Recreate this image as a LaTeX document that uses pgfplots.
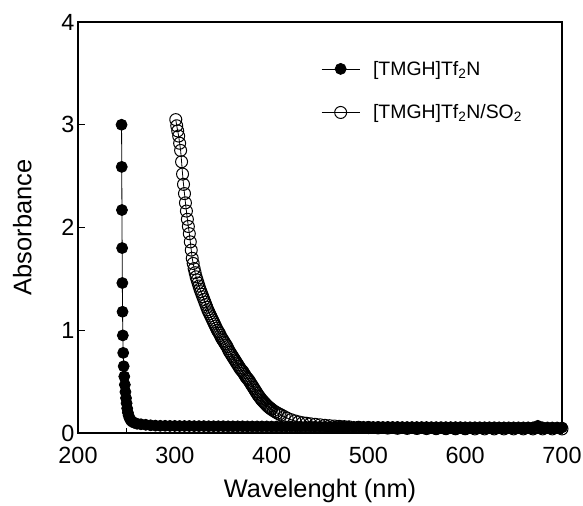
\documentclass[border=0pt]{standalone}
\usepackage{pgfplots}
\pgfplotsset{compat=1.18}
\usepackage{fontspec}
\setmainfont{Liberation Sans}

% absorbance spectra
\pgfplotstableread{
x y
245.0 3.00
245.2 2.59
245.4 2.17
245.6 1.80
245.8 1.46
246.0 1.18
246.3 0.95
246.7 0.78
247.2 0.65
247.8 0.55
248.4 0.47
249.0 0.40
249.6 0.34
250.2 0.29
250.8 0.24
251.5 0.20
252.3 0.17
253.2 0.145
254.5 0.125
256 0.11
258 0.10
261 0.09
265 0.085
270 0.08
275 0.075
280 0.072
285 0.070
290 0.070
295 0.069
300 0.069
305 0.068
310 0.068
315 0.068
320 0.067
325 0.067
330 0.067
335 0.066
340 0.066
345 0.066
350 0.066
355 0.065
360 0.065
365 0.065
370 0.065
375 0.064
380 0.064
385 0.064
390 0.064
395 0.064
400 0.063
405 0.063
410 0.063
415 0.063
420 0.063
425 0.062
430 0.062
435 0.062
440 0.062
445 0.062
450 0.061
455 0.061
460 0.061
465 0.061
470 0.061
475 0.060
480 0.060
485 0.060
490 0.060
495 0.060
500 0.060
505 0.059
510 0.059
515 0.059
520 0.059
525 0.059
530 0.059
535 0.058
540 0.058
545 0.058
550 0.058
555 0.058
560 0.058
565 0.057
570 0.057
575 0.057
580 0.057
585 0.057
590 0.057
595 0.057
600 0.056
605 0.056
610 0.056
615 0.056
620 0.056
625 0.056
630 0.056
635 0.055
640 0.055
645 0.055
650 0.055
655 0.055
660 0.055
665 0.055
670 0.055
675 0.070
680 0.055
685 0.054
690 0.054
695 0.054
700 0.054
}\pure

\pgfplotstableread{
x y
301 3.05
302 2.99
303 2.94
304 2.89
305 2.82
306 2.75
307 2.64
308 2.52
309 2.42
310 2.33
311 2.24
312 2.16
313 2.08
314 2.01
315 1.94
316 1.86
317 1.78
318 1.70
319 1.65
320 1.60
321 1.56
322 1.52
323 1.49
324 1.46
325 1.43
326 1.40
327 1.375
328 1.35
329 1.325
330 1.30
331 1.275
332 1.25
333 1.225
334 1.20
335 1.18
336 1.16
337 1.14
338 1.12
339 1.10
340 1.08
341 1.06
342 1.04
343 1.02
344 1.00
345 0.985
346 0.97
347 0.95
348 0.93
349 0.915
350 0.90
351 0.885
352 0.87
353 0.855
354 0.84
355 0.82
356 0.80
357 0.785
358 0.77
359 0.755
360 0.74
361 0.725
362 0.71
363 0.695
364 0.68
365 0.665
366 0.65
367 0.635
368 0.62
369 0.61
370 0.60
371 0.585
372 0.57
373 0.555
374 0.54
375 0.53
376 0.52
377 0.505
378 0.49
379 0.475
380 0.46
381 0.445
382 0.43
383 0.415
384 0.40
385 0.385
386 0.37
387 0.357
388 0.345
389 0.332
390 0.32
391 0.31
392 0.30
393 0.29
394 0.28
395 0.27
396 0.26
397 0.252
398 0.245
399 0.237
400 0.23
402 0.217
404 0.205
406 0.194
408 0.184
410 0.175
413 0.16
416 0.145
420 0.13
424 0.118
428 0.108
432 0.10
436 0.095
440 0.09
445 0.085
450 0.08
455 0.075
460 0.071
465 0.068
470 0.065
475 0.062
480 0.060
490 0.056
500 0.053
510 0.050
520 0.048
530 0.046
540 0.045
550 0.044
560 0.043
570 0.042
580 0.042
590 0.041
600 0.041
610 0.040
620 0.040
630 0.040
640 0.040
650 0.040
660 0.040
670 0.040
680 0.040
690 0.040
700 0.040
}\sotwo

\begin{document}
\begin{tikzpicture}
\begin{axis}[
  scale only axis,
  width=484bp, height=411bp,
  xmin=200, xmax=700, ymin=0, ymax=4,
  xtick={200,300,...,700}, ytick={0,1,2,3,4},
  minor x tick num=1,
  tick align=inside,
  xtick pos=bottom, ytick pos=left,
  major tick length=7bp, minor tick length=5bp,
  every tick/.style={black, line width=1.2bp},
  axis line style={line width=1.5bp},
  ticklabel style={font=\fontsize{23.5}{27}\selectfont},
  xticklabel style={yshift=-11bp},
  /pgf/number format/assume math mode=true,
  xlabel={Wavelenght (nm)},
  ylabel={Absorbance},
  label style={font=\fontsize{25.5}{29}\selectfont},
  xlabel shift=8bp,
  ylabel shift=23bp,
  legend style={draw=none, fill=none, at={(axis cs:448,3.66)}, anchor=north west,
    font=\fontsize{19.5}{22}\selectfont, row sep=24bp,
    legend cell align=left},
  legend image code/.code={
    \draw[mark repeat=2, mark phase=2] plot coordinates {(0bp,0bp) (19bp,0bp) (38bp,0bp)};
    \path (49bp,0bp);
  },
]
\addplot[black, line width=0.8bp, mark=*, mark size=5.5bp, mark options={fill=black}] table {\pure};
\addlegendentry{[TMGH]Tf\textsubscript{2}N}
\addplot[black, line width=0.8bp, mark=o, mark size=6bp, mark options={fill=none, line width=1bp}] table {\sotwo};
\addlegendentry{[TMGH]Tf\textsubscript{2}N/SO\textsubscript{2}}
\end{axis}
\pgfresetboundingbox
\path (current axis.south west) ++(-78bp,-72bp) rectangle ([shift={(21bp,22bp)}]current axis.north east);
\end{tikzpicture}
\end{document}
